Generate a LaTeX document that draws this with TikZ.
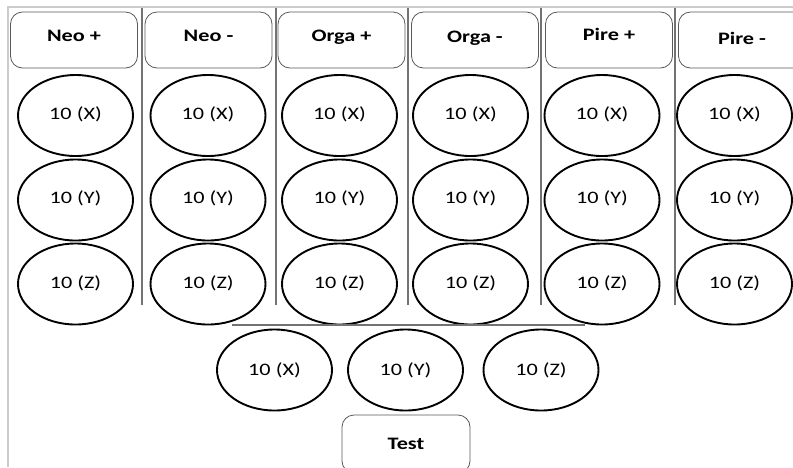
\documentclass[tikz,border=0pt]{standalone}
\usepackage{fontspec}
\newfontfamily\myfont[FakeStretch=1.27]{Carlito}
\usetikzlibrary{shapes.geometric}
\begin{document}
\begin{tikzpicture}[x=1pt,y=-1pt,
  hdr/.style={draw=black!65,line width=0.8pt,rounded corners=12pt,minimum width=127pt,minimum height=56pt,inner sep=0pt,font=\myfont\fontsize{17.5}{19}\selectfont\bfseries},
  circ/.style={draw=black,line width=1.9pt,ellipse,minimum width=115pt,minimum height=81pt,inner sep=0pt,font=\myfont\fontsize{17.5}{19}\selectfont},
  sep/.style={draw=black!55,line width=1.1pt},
  frame/.style={draw=black!20,line width=1.6pt}]
\useasboundingbox (0,0) rectangle (793,467);
\clip (0,0) rectangle (793,467);
% frame
\coordinate (f1) at (8,467);
\coordinate (f2) at (8,7);
\coordinate (f3) at (793,7);
\draw[frame] (f1) -- (f2) -- (f3);
% separators
\foreach \i/\x in {1/142,2/276,3/408,4/541,5/675}{
  \coordinate (st\i) at (\x,8);
  \coordinate (sb\i) at (\x,305);
  \draw[sep] (st\i) -- (sb\i);
}
% headers
\node[hdr] (h1) at (74,40) {\raisebox{8pt}{Neo +}};
\node[hdr] (h2) at (208.5,40) {\raisebox{8pt}{Neo -}};
\node[hdr] (h3) at (341.5,40) {\raisebox{8pt}{Orga +}};
\node[hdr] (h4) at (475,40) {\raisebox{6pt}{Orga -}};
\node[hdr] (h5) at (609,40) {\raisebox{12pt}{Pire +}};
\node[hdr] (h6) at (742,40) {\raisebox{4pt}{Pire -}};
% circles
\foreach \c/\x in {1/75.5,2/208,3/339.5,4/470.5,5/602,6/734.5}{
  \node[circ] (x\c) at (\x,115.5) {\raisebox{4pt}{10 (X)}};
  \node[circ] (y\c) at (\x,200) {\raisebox{5pt}{10 (Y)}};
  \node[circ] (z\c) at (\x,284) {\raisebox{4pt}{10 (Z)}};
}
% bottom line
\coordinate (l1) at (232,325);
\coordinate (l2) at (585,325);
\draw[sep] (l1) -- (l2);
% bottom circles
\node[circ] (bx) at (274.5,370) {\raisebox{1pt}{10 (X)}};
\node[circ] (by) at (405.5,370) {\raisebox{1pt}{10 (Y)}};
\node[circ] (bz) at (541,370) {\raisebox{1pt}{10 (Z)}};
% test
\node[hdr,minimum width=128pt,minimum height=58pt] (test) at (406,444) {Test};
\end{tikzpicture}
\end{document}
